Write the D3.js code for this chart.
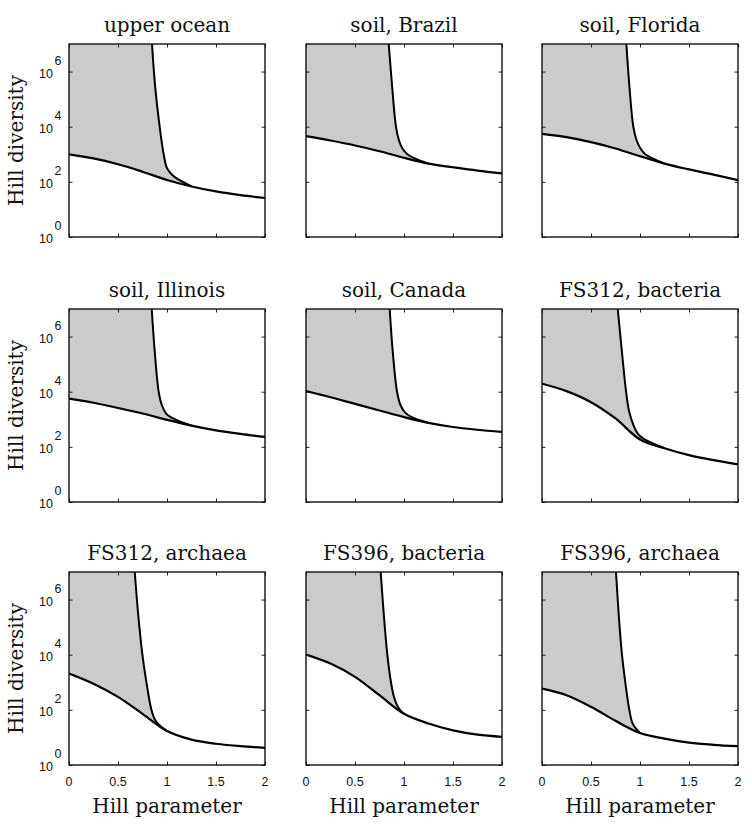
<!DOCTYPE html>
<html>
<head>
<meta charset="utf-8">
<script src="https://cdn.jsdelivr.net/npm/d3@7"></script>
<style>
  html, body { margin: 0; padding: 0; background: #fff; }
  svg { display: block; }
</style>
</head>
<body>
<svg id="chart" width="752" height="825"></svg>
<script>
// ---------- data ----------
const titles = ["upper ocean", "soil, Brazil", "soil, Florida",
                "soil, Illinois", "soil, Canada", "FS312, bacteria",
                "FS312, archaea", "FS396, bacteria", "FS396, archaea"];

// Hill parameter grid for the lower (observed) curve
const hillQ = [0, 0.25, 0.5, 0.75, 1, 1.25, 1.5, 1.75, 2];

// lower curve: Hill diversity at each hillQ
const lowerDiversity = [
  [1000, 708, 437, 234, 117, 68, 45, 33, 26],
  [4570, 3160, 2090, 1290, 741, 457, 339, 257, 204],
  [5500, 4170, 2750, 1620, 851, 457, 282, 182, 115],
  [5620, 3980, 2570, 1620, 955, 589, 398, 295, 229],
  [10500, 6310, 3630, 2090, 1200, 741, 525, 417, 347],
  [19500, 10500, 4170, 1070, 186, 89, 50, 33, 23],
  [2090, 891, 295, 72, 17, 8.3, 5.9, 4.8, 4.2],
  [10200, 4790, 1580, 339, 72, 32, 18, 12.6, 10.5],
  [589, 339, 129, 40, 14.5, 9.1, 6.5, 5.4, 4.8]
];

// upper curve: Hill parameter values and diversity
const upperQ = [
  [0.847, 0.878, 0.925, 0.966, 1.0, 1.054, 1.11, 1.25],
  [0.844, 0.878, 0.918, 0.949, 0.986, 1.034, 1.11, 1.25],
  [0.861, 0.891, 0.932, 0.966, 1.007, 1.054, 1.13, 1.25],
  [0.844, 0.874, 0.915, 0.949, 0.993, 1.054, 1.13, 1.25],
  [0.854, 0.884, 0.929, 0.966, 1.01, 1.068, 1.25],
  [0.773, 0.814, 0.858, 0.888, 0.932, 0.973, 1.034, 1.25],
  [0.671, 0.705, 0.749, 0.79, 0.841, 0.88, 0.92, 1.0],
  [0.762, 0.793, 0.83, 0.867, 0.895, 0.925, 0.959, 1.0],
  [0.755, 0.782, 0.816, 0.85, 0.891, 0.925, 0.976, 1.0]
];
const upperDiversity = [
  [1e7, 3.16e5, 1e4, 1000, 316, 178, 126, 68],
  [1e7, 3.16e5, 1e4, 3160, 1580, 1000, 708, 457],
  [1e7, 3.16e5, 1e4, 3160, 1580, 1000, 708, 457],
  [1e7, 3.16e5, 1e4, 3160, 1580, 1120, 832, 589],
  [1e7, 3.16e5, 1e4, 3160, 1780, 1260, 741],
  [1e7, 3.16e5, 1e4, 2000, 631, 316, 200, 89],
  [1e7, 3.16e5, 1e4, 1000, 100, 41.7, 28.2, 17],
  [1e7, 3.16e5, 1e4, 1000, 316, 158, 100, 72],
  [1e7, 3.16e5, 1e4, 1000, 100, 31.6, 17.8, 14.5]
];

const xTicks = [0, 0.5, 1, 1.5, 2];
const xTickLabels = ["0", "0.5", "1", "1.5", "2"];
const yTicks = [1, 1e2, 1e4, 1e6];
const yTickExponents = ["0", "2", "4", "6"];

// ---------- layout ----------
const colLeft = [69, 306, 542];
const rowTop = [44, 309, 572];
const pw = 196, ph = 193;
const serif = "'DejaVu Serif', serif";
const sans = "'Liberation Sans', Arial, sans-serif";
const curve = d3.curveCatmullRom.alpha(0.5);

const svg = d3.select("#chart");

titles.forEach((title, i) => {
  const col = i % 3, row = Math.floor(i / 3);
  const left = colLeft[col], top = rowTop[row];
  const g = svg.append("g").attr("transform", `translate(${left},${top})`);

  const x = d3.scaleLinear().domain([0, 2]).range([0, pw]);
  const y = d3.scaleLog().domain([1, 1e7]).range([ph, 0]);

  const clipId = "clip" + i;
  g.append("clipPath").attr("id", clipId)
    .append("rect").attr("width", pw).attr("height", ph);

  const lower = hillQ.map((q, k) => ({ q, v: lowerDiversity[i][k] }));
  const upper = upperQ[i].map((q, k) => ({ q, v: upperDiversity[i][k] }));
  const lastUpperQ = upperQ[i][upperQ[i].length - 1];
  const upperExt = upper.concat(lower.filter(d => d.q > lastUpperQ + 0.01));

  const plot = g.append("g").attr("clip-path", `url(#${clipId})`);

  // grey region above the lower curve
  plot.append("path")
    .datum(lower)
    .attr("fill", "#cbcbcb")
    .attr("d", d3.area().x(d => x(d.q)).y0(d => y(d.v)).y1(-5).curve(curve));

  // white region above the upper curve
  plot.append("path")
    .datum(upperExt)
    .attr("fill", "#fff")
    .attr("d", d3.area().x(d => x(d.q)).y0(d => y(d.v) - 0.3).y1(-5).curve(curve));
  plot.append("rect")
    .attr("x", x(2)).attr("y", -5).attr("width", 10).attr("height", ph + 10).attr("fill", "#fff");

  const line = d3.line().x(d => x(d.q)).y(d => y(d.v)).curve(curve);
  plot.append("path").datum(upper)
    .attr("fill", "none").attr("stroke", "#000").attr("stroke-width", 2)
    .attr("d", line);
  plot.append("path").datum(lower)
    .attr("fill", "none").attr("stroke", "#000").attr("stroke-width", 2.2)
    .attr("d", line);

  // ticks on all four sides (inward)
  const tl = 3.5;
  const axB = g.append("g").attr("transform", `translate(0,${ph})`)
    .call(d3.axisBottom(x).tickValues(xTicks).tickSize(-tl).tickFormat(""));
  const axT = g.append("g")
    .call(d3.axisTop(x).tickValues(xTicks).tickSize(-tl).tickFormat(""));
  const axL = g.append("g")
    .call(d3.axisLeft(y).tickValues(yTicks).tickSize(-tl).tickFormat(""));
  const axR = g.append("g").attr("transform", `translate(${pw},0)`)
    .call(d3.axisRight(y).tickValues(yTicks).tickSize(-tl).tickFormat(""));
  [axB, axT, axL, axR].forEach(a => {
    a.select(".domain").remove();
    a.selectAll("line").attr("stroke", "#222").attr("stroke-width", 1);
  });

  // box
  g.append("rect").attr("width", pw).attr("height", ph)
    .attr("fill", "none").attr("stroke", "#111").attr("stroke-width", 1.4);

  // title
  g.append("text")
    .attr("x", pw / 2).attr("y", -12)
    .attr("text-anchor", "middle")
    .attr("font-family", serif).attr("font-size", 20)
    .attr("fill", "#111")
    .text(title);

  // y tick labels & axis title (first column)
  if (col === 0) {
    yTicks.forEach((t, k) => {
      const yy = y(t);
      g.append("text")
        .attr("x", -16).attr("y", yy + 6)
        .attr("text-anchor", "end")
        .attr("font-family", sans).attr("font-size", 12.5).attr("fill", "#111")
        .text("10");
      g.append("text")
        .attr("x", -14.5).attr("y", yy - 7)
        .attr("text-anchor", "start")
        .attr("font-family", sans).attr("font-size", 12.5).attr("fill", "#111")
        .text(yTickExponents[k]);
    });
    svg.append("text")
      .attr("transform", `translate(${left - 46},${top + ph / 2}) rotate(-90)`)
      .attr("text-anchor", "middle")
      .attr("font-family", serif).attr("font-size", 20).attr("fill", "#111")
      .text("Hill diversity");
  }

  // x tick labels & axis title (last row)
  if (row === 2) {
    xTicks.forEach((t, k) => {
      g.append("text")
        .attr("x", x(t)).attr("y", ph + 21)
        .attr("text-anchor", "middle")
        .attr("font-family", sans).attr("font-size", 12.5).attr("fill", "#111")
        .text(xTickLabels[k]);
    });
    g.append("text")
      .attr("x", pw / 2).attr("y", ph + 48)
      .attr("text-anchor", "middle")
      .attr("font-family", serif).attr("font-size", 20).attr("fill", "#111")
      .text("Hill parameter");
  }
});
</script>
</body>
</html>
